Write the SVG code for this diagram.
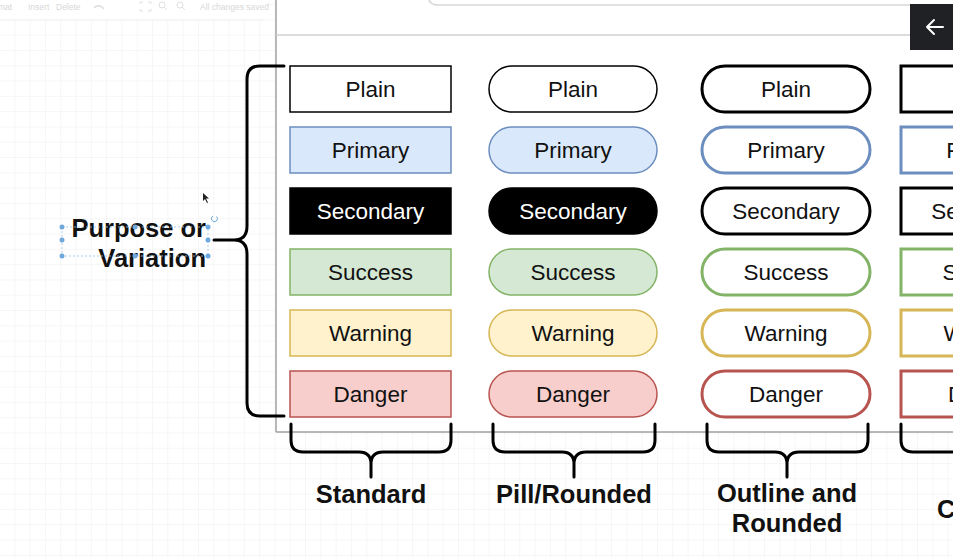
<svg xmlns="http://www.w3.org/2000/svg" width="953" height="558" viewBox="0 0 953 558">
<defs>
<pattern id="grid" x="0" y="5" width="15.3" height="15.3" patternUnits="userSpaceOnUse">
<path d="M15.3 0V15.3M0 15.3H15.3" fill="none" stroke="#eeeeee" stroke-width="1"/>
</pattern>
</defs>
<style>
.lbl{font-family:"Liberation Sans",Arial,sans-serif;font-size:22.5px;text-anchor:middle;fill:#111}
.big{font-family:"Liberation Sans",Arial,sans-serif;font-size:25.5px;font-weight:bold;fill:#111}
.tb{font-family:"Liberation Sans",Arial,sans-serif;font-size:8.5px;fill:#d8d8d8}
.brace{fill:none;stroke:#000;stroke-width:3;stroke-linecap:round;stroke-linejoin:round}
.plain{fill:#fff;stroke:#000;stroke-width:1.5}
.pri{fill:#dae8fc;stroke:#6c8ebf;stroke-width:1.5}
.sec{fill:#000;stroke:#000;stroke-width:1.5}
.suc{fill:#d5e8d4;stroke:#82b366;stroke-width:1.5}
.war{fill:#fff2cc;stroke:#d6b656;stroke-width:1.5}
.dan{fill:#f8cecc;stroke:#b85450;stroke-width:1.5}
.o{fill:#fff;stroke-width:3}
.white{fill:#fff}
.handle{fill:#6fa8dc}
</style>
<rect width="953" height="558" fill="#fff"/>
<rect width="953" height="558" fill="url(#grid)"/>
<!-- toolbar -->
<g id="toolbar">
<rect x="0" y="0" width="265" height="20" fill="#fff"/>
<line x1="0" y1="20" x2="265" y2="20" stroke="#eee"/>
<text class="tb" x="-2" y="10">mat</text>
<text class="tb" x="28" y="10">Insert</text>
<text class="tb" x="56" y="10">Delete</text>
<path d="M94 8 Q99 3 104 9" fill="none" stroke="#ddd" stroke-width="1.5"/>
<path d="M140 4v-2h3M148 2h3v2M140 9v2h3M148 11h3v-2" fill="none" stroke="#e0e0e0"/>
<circle cx="162" cy="5" r="3" fill="none" stroke="#e0e0e0"/>
<line x1="164" y1="7" x2="167" y2="10" stroke="#e0e0e0"/>
<circle cx="180" cy="5" r="3" fill="none" stroke="#e0e0e0"/>
<line x1="182" y1="7" x2="185" y2="10" stroke="#e0e0e0"/>
<text class="tb" x="200" y="10">All changes saved</text>
</g>
<!-- panel -->
<g id="panel">
<rect x="276" y="0" width="677" height="432" fill="#fff"/>
<line x1="276" y1="0" x2="276" y2="432" stroke="#a0a0a0" stroke-width="1.5"/>
<line x1="276" y1="432" x2="953" y2="432" stroke="#a0a0a0" stroke-width="1.5"/>
<line x1="276" y1="35" x2="953" y2="35" stroke="#d0d0d0" stroke-width="1.5"/>
<path d="M428 -5 Q428 5 438 5 H953" fill="none" stroke="#d8d8d8" stroke-width="1.5"/>
</g>
<g id="back-button">
<rect x="910" y="4" width="43" height="46" fill="#202124"/>
<path d="M927 27H943M927 27L934 20M927 27L934 34" fill="none" stroke="#fff" stroke-width="2" stroke-linecap="round"/>
</g>
<!-- standard column -->
<g id="std-plain"><rect class="plain" x="290" y="66" width="161" height="46"/><text class="lbl" x="370.5" y="97">Plain</text></g>
<g id="std-primary"><rect class="pri" x="290" y="127" width="161" height="46"/><text class="lbl" x="370.5" y="158">Primary</text></g>
<g id="std-secondary"><rect class="sec" x="290" y="188" width="161" height="46"/><text class="lbl white" x="370.5" y="219">Secondary</text></g>
<g id="std-success"><rect class="suc" x="290" y="249" width="161" height="46"/><text class="lbl" x="370.5" y="280">Success</text></g>
<g id="std-warning"><rect class="war" x="290" y="310" width="161" height="46"/><text class="lbl" x="370.5" y="341">Warning</text></g>
<g id="std-danger"><rect class="dan" x="290" y="371" width="161" height="46"/><text class="lbl" x="370.5" y="402">Danger</text></g>
<!-- pill column -->
<g id="pill-plain"><rect class="plain" x="489" y="66" width="168" height="46" rx="23"/><text class="lbl" x="573" y="97">Plain</text></g>
<g id="pill-primary"><rect class="pri" x="489" y="127" width="168" height="46" rx="23"/><text class="lbl" x="573" y="158">Primary</text></g>
<g id="pill-secondary"><rect class="sec" x="489" y="188" width="168" height="46" rx="23"/><text class="lbl white" x="573" y="219">Secondary</text></g>
<g id="pill-success"><rect class="suc" x="489" y="249" width="168" height="46" rx="23"/><text class="lbl" x="573" y="280">Success</text></g>
<g id="pill-warning"><rect class="war" x="489" y="310" width="168" height="46" rx="23"/><text class="lbl" x="573" y="341">Warning</text></g>
<g id="pill-danger"><rect class="dan" x="489" y="371" width="168" height="46" rx="23"/><text class="lbl" x="573" y="402">Danger</text></g>
<!-- outline column -->
<g id="out-plain"><rect class="o" stroke="#000" x="702" y="66" width="168" height="46" rx="23"/><text class="lbl" x="786" y="97">Plain</text></g>
<g id="out-primary"><rect class="o" stroke="#6c8ebf" x="702" y="127" width="168" height="46" rx="23"/><text class="lbl" x="786" y="158">Primary</text></g>
<g id="out-secondary"><rect class="o" stroke="#000" x="702" y="188" width="168" height="46" rx="23"/><text class="lbl" x="786" y="219">Secondary</text></g>
<g id="out-success"><rect class="o" stroke="#82b366" x="702" y="249" width="168" height="46" rx="23"/><text class="lbl" x="786" y="280">Success</text></g>
<g id="out-warning"><rect class="o" stroke="#d6b656" x="702" y="310" width="168" height="46" rx="23"/><text class="lbl" x="786" y="341">Warning</text></g>
<g id="out-danger"><rect class="o" stroke="#b85450" x="702" y="371" width="168" height="46" rx="23"/><text class="lbl" x="786" y="402">Danger</text></g>
<!-- fourth column (cut off by the frame) -->
<g id="sq-plain"><rect class="o" stroke="#000" x="901" y="66" width="168" height="46"/><text class="lbl" x="985" y="97">Plain</text></g>
<g id="sq-primary"><rect class="o" stroke="#6c8ebf" x="901" y="127" width="168" height="46"/><text class="lbl" x="985" y="158">Primary</text></g>
<g id="sq-secondary"><rect class="o" stroke="#000" x="901" y="188" width="168" height="46"/><text class="lbl" x="985" y="219">Secondary</text></g>
<g id="sq-success"><rect class="o" stroke="#82b366" x="901" y="249" width="168" height="46"/><text class="lbl" x="985" y="280">Success</text></g>
<g id="sq-warning"><rect class="o" stroke="#d6b656" x="901" y="310" width="168" height="46"/><text class="lbl" x="985" y="341">Warning</text></g>
<g id="sq-danger"><rect class="o" stroke="#b85450" x="901" y="371" width="168" height="46"/><text class="lbl" x="985" y="402">Danger</text></g>
<!-- connectors / braces -->
<g id="connectors">
<path class="brace" d="M284 66H260Q247 66 247 79V226Q247 240 234 240H214M234 240Q247 240 247 254V403Q247 416 260 416H284"/>
<path class="brace" d="M291 424V440Q291 452 303 452H359Q371 452 371 464V477M371 464Q371 452 383 452H439Q451 452 451 440V424"/>
<path class="brace" d="M493 424V440Q493 452 505 452H562Q574 452 574 464V477M574 464Q574 452 586 452H643Q655 452 655 440V424"/>
<path class="brace" d="M707 424V440Q707 452 719 452H775Q787 452 787 464V477M787 464Q787 452 799 452H856Q868 452 868 440V424"/>
<path class="brace" d="M901 424V440Q901 452 913 452H960"/>
</g>
<!-- labels -->
<g id="label-purpose">
<text class="big" x="206" y="237" text-anchor="end">Purpose or</text>
<text class="big" x="206" y="267" text-anchor="end">Variation</text>
<rect x="62" y="227" width="146" height="29" fill="none" stroke="#9ec3e6" stroke-width="0.8" stroke-dasharray="2 2"/>
<circle class="handle" cx="62" cy="227" r="2.5"/><circle class="handle" cx="135" cy="227" r="2.5"/><circle class="handle" cx="208" cy="227" r="2.5"/>
<circle class="handle" cx="62" cy="240" r="2.5"/><circle class="handle" cx="208" cy="240" r="2.5"/>
<circle class="handle" cx="62" cy="256" r="2.5"/><circle class="handle" cx="135" cy="256" r="2.5"/><circle class="handle" cx="208" cy="256" r="2.5"/>
<path d="M216.5 216.5A3 3 0 1 1 213 216" fill="none" stroke="#6fa8dc" stroke-width="1"/>
<path d="M203 193L203 201L205 199L207 203L208 202.5L206 198.5L209 198.5Z" fill="#222"/>
</g>
<g id="label-standard"><text class="big" x="371" y="503" text-anchor="middle">Standard</text></g>
<g id="label-pill"><text class="big" x="574" y="503" text-anchor="middle">Pill/Rounded</text></g>
<g id="label-outline"><text class="big" x="787" y="502" text-anchor="middle">Outline and</text><text class="big" x="787" y="532" text-anchor="middle">Rounded</text></g>
<g id="label-fourth"><text class="big" x="937" y="518">C</text></g>
</svg>
